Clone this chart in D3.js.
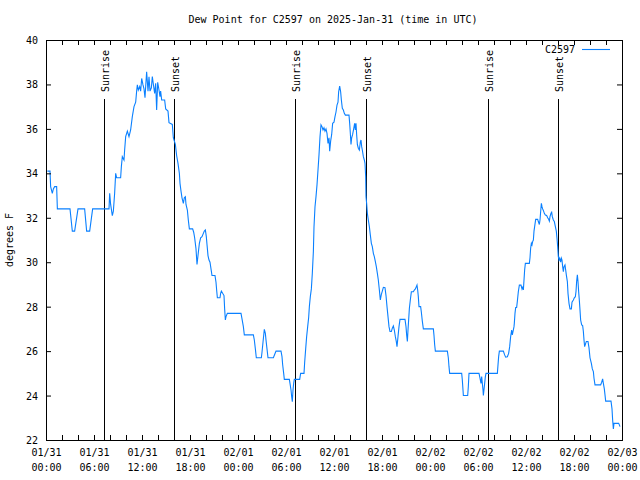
<!DOCTYPE html>
<html>
<head>
<meta charset="utf-8">
<script src="https://cdn.jsdelivr.net/npm/d3@7"></script>
<style>
  html, body { margin: 0; padding: 0; background: #fff; }
  svg text { font-family: "DejaVu Sans Mono", "Liberation Mono", monospace; font-size: 10px; fill: #000; }
</style>
</head>
<body>
<svg id="chart" width="640" height="480"></svg>
<script>
// ---- data (hours since 2025-01-31 00:00 UTC, dew point in °F) ----
const hours = [
0.17,0.5,0.58,0.79,0.92,1.08,1.33,1.42,3.0,3.29,3.58,4.0,4.83,5.08,5.46,5.83,7.875,7.96,8.08,8.29,8.42,8.58,8.71,8.83,9.33,9.42,9.54,9.75,9.83,9.96,10.17,10.375,10.58,10.79,11.0,11.21,11.33,11.42,11.54,11.71,11.83,11.96,12.125,12.25,12.375,12.46,12.58,12.75,12.875,13.0,13.17,13.29,13.42,13.58,13.71,13.83,13.96,14.125,14.25,14.33,14.46,14.83,14.96,15.25,15.375,15.79,15.92,
16.17,16.33,16.5,16.67,16.75,16.875,17.0,17.17,17.29,17.42,17.5,17.67,17.79,17.92,18.33,18.46,18.58,18.75,18.875,19.0,19.17,19.33,19.5,19.67,19.79,19.92,20.04,20.125,20.25,20.375,20.5,20.625,20.75,21.125,21.25,21.33,21.42,21.75,21.83,21.92,22.08,22.25,22.33,22.42,22.5,22.67,24.375,24.5,24.67,24.79,25.92,26.04,26.17,26.29,26.92,27.0,27.125,27.29,27.42,27.5,27.625,27.75,28.42,28.58,28.75,29.375,29.5,29.58,29.71,29.79,30.42,30.5,30.625,30.71,30.79,30.875,30.96,31.04,
31.71,31.83,32.25,32.33,32.46,32.58,32.71,32.83,32.92,33.04,33.17,33.29,33.42,33.5,33.625,33.75,33.875,34.0,34.125,34.25,34.375,34.5,34.625,34.75,34.875,35.0,35.125,35.25,35.375,35.46,35.58,35.71,35.83,36.0,36.125,36.25,36.375,36.5,36.58,36.71,36.83,36.92,37.04,37.17,37.29,37.42,37.875,37.96,38.04,38.125,38.21,38.33,38.46,38.58,38.67,38.75,38.83,38.92,39.04,39.17,39.29,39.375,39.46,39.54,39.67,39.79,39.875,39.96,40.0,40.08,40.17,40.29,40.42,40.54,40.67,40.79,40.92,41.04,41.17,41.29,41.42,41.54,41.67,41.79,41.92,42.04,42.17,42.375,42.5,42.625,42.75,42.875,43.0,43.17,43.29,43.42,43.54,43.67,43.79,43.875,44.0,44.125,44.25,
44.875,45.0,45.08,45.17,45.25,45.33,45.42,45.54,45.67,45.92,46.04,46.17,46.29,46.375,46.46,46.54,46.625,46.83,46.92,47.04,47.17,48.42,48.5,48.58,48.67,50.17,50.29,50.375,50.46,51.96,52.04,52.125,52.17,52.71,52.79,52.875,54.125,54.25,54.375,54.46,54.54,54.625,54.67,54.79,54.92,55.0,56.42,56.5,56.58,56.67,57.17,57.33,57.46,57.67,57.83,57.96,58.08,58.21,58.29,58.42,58.5,
58.54,58.625,58.71,58.83,58.92,59.04,59.17,59.375,59.5,59.58,59.67,59.75,59.83,59.92,60.42,60.5,60.58,60.67,60.75,60.83,60.92,61.0,61.08,61.21,61.46,61.54,61.67,61.75,61.83,61.92,62.0,62.08,62.17,62.29,62.42,62.58,62.71,62.83,62.92,63.0,63.125,63.21,63.29,63.42,63.54,63.67,63.79,63.875,63.96,64.04,64.125,64.21,64.33,64.42,64.5,64.58,64.67,64.75,64.875,64.96,65.04,65.17,65.25,65.375,65.5,65.67,65.75,65.92,66.04,66.17,66.25,66.33,66.42,66.5,66.58,66.67,66.75,66.83,66.96,67.08,67.17,67.25,67.33,67.46,67.54,67.75,67.875,68.0,68.17,68.29,68.42,68.5,68.625,69.33,69.46,69.58,69.67,69.79,69.875,69.96,70.625,70.75,70.83,70.92,71.0,71.58,71.67,71.75
];
const dewF = [
34.1,34.1,33.4,33.1,33.3,33.4,33.4,32.4,32.4,31.4,31.4,32.4,32.4,31.4,31.4,32.4,32.4,33.1,32.6,32.1,32.3,33.1,34.0,33.8,33.8,34.3,34.75,34.6,35.05,35.65,35.9,35.65,35.95,36.55,37.0,37.2,37.7,37.98,37.75,37.9,37.7,38.27,37.98,37.8,37.4,37.9,38.57,37.7,38.35,37.7,37.85,38.35,38.0,37.6,38.05,36.85,38.1,37.75,37.45,37.7,37.3,37.3,36.9,36.8,36.28,36.2,35.6,
35.3,34.8,34.45,34.0,33.55,33.2,32.9,32.65,32.9,32.95,32.6,32.35,31.9,31.5,31.5,31.35,31.1,30.6,29.9,30.3,30.85,31.1,31.15,31.3,31.4,31.45,31.15,30.8,30.3,30.1,30.0,29.7,29.4,29.4,29.1,28.75,28.4,28.4,28.6,28.7,28.6,28.5,27.9,27.4,27.55,27.7,27.7,27.45,27.1,26.73,26.73,26.5,26.1,25.7,25.7,25.95,26.4,26.98,26.8,26.5,26.1,25.7,25.7,25.85,26.0,26.0,25.75,25.4,25.0,24.73,24.73,24.55,24.25,23.95,23.72,24.25,24.55,24.73,
24.73,25.0,25.0,25.48,26.1,26.65,27.1,27.5,28.0,28.45,28.8,29.5,30.47,31.6,32.5,32.95,33.48,34.15,34.83,35.65,36.18,36.1,35.95,36.05,35.9,36.0,35.8,35.35,35.6,35.0,35.45,35.75,36.25,36.3,36.55,36.76,37.07,37.2,37.67,37.93,37.67,37.3,36.93,36.85,36.7,36.62,36.62,36.25,35.8,35.3,35.6,35.75,36.0,36.25,35.95,36.25,35.75,35.3,35.13,35.05,35.4,35.5,35.2,35.05,34.75,34.6,34.45,33.85,32.95,32.65,32.2,31.9,31.6,31.23,30.85,30.7,30.4,30.25,30.03,29.8,29.5,29.2,28.75,28.3,28.55,28.7,28.87,28.85,28.5,28.0,27.55,27.1,26.88,26.88,27.03,27.13,26.95,26.65,26.43,26.2,26.65,27.1,27.43,
27.43,27.1,26.73,26.43,26.95,27.4,27.92,28.3,28.67,28.67,28.75,28.8,28.9,28.97,28.75,28.45,28.0,28.0,27.75,27.35,27.0,27.0,26.7,26.3,26.0,26.0,25.7,25.3,25.0,25.0,24.7,24.25,24.0,24.0,24.4,25.0,25.0,24.78,24.55,24.85,24.55,24.25,24.0,24.4,24.85,25.0,25.0,25.38,25.75,26.0,26.0,25.83,25.73,25.75,25.9,26.2,26.65,26.95,26.73,26.95,27.1,
27.25,27.7,27.96,27.96,28.25,28.67,28.97,28.97,28.8,28.9,28.75,29.2,29.65,29.95,29.95,30.2,30.63,30.85,30.78,30.93,31.0,31.4,31.6,31.93,31.93,31.83,31.7,31.9,32.27,32.65,32.5,32.4,32.33,32.2,32.12,32.1,32.0,31.93,31.85,32.05,32.2,32.25,32.05,31.9,31.83,31.6,31.4,31.07,30.7,30.25,30.1,30.18,30.0,30.18,30.1,29.8,29.58,29.8,29.88,29.65,29.43,29.13,28.6,28.15,27.9,27.9,28.2,28.3,28.4,28.45,28.68,29.13,29.43,29.13,28.68,28.27,27.85,27.4,27.18,27.15,26.88,26.5,26.2,26.35,26.43,26.43,26.15,25.7,25.45,25.2,25.08,24.78,24.48,24.48,24.6,24.75,24.55,24.3,24.03,23.75,23.75,23.4,22.9,22.5,22.75,22.75,22.68,22.6
];
const yTicks = [22, 24, 26, 28, 30, 32, 34, 36, 38, 40];
const xLabelHours = [0, 6, 12, 18, 24, 30, 36, 42, 48, 54, 60, 66, 72];
const xMinorHours = d3.range(0, 73, 2);
const sunEvents = [
  { h: 7.28, label: "Sunrise" }, { h: 16.04, label: "Sunset" },
  { h: 31.16, label: "Sunrise" }, { h: 40.04, label: "Sunset" },
  { h: 55.21, label: "Sunrise" }, { h: 64.04, label: "Sunset" }
];
const titleText = "Dew Point for C2597 on 2025-Jan-31 (time in UTC)";
const yLabelText = "degrees F";
const seriesName = "C2597";

// ---- layout ----
const svg = d3.select("#chart");
const L = 46, R = 622, T = 40, B = 440;
const t0 = Date.UTC(2025, 0, 31, 0, 0);
const toDate = h => new Date(t0 + h * 3600e3);

const x = d3.scaleUtc().domain([toDate(0), toDate(72)]).range([L, R]);
const y = d3.scaleLinear().domain([22, 40]).range([B, T]);

const lineColor = "#0a80ff";

// sunrise / sunset lines
const ev = svg.append("g");
sunEvents.forEach(e => {
  const xe = Math.round(x(toDate(e.h))) + 0.5;
  ev.append("line").attr("x1", xe).attr("x2", xe).attr("y1", B).attr("y2", 99)
    .attr("stroke", "#000").attr("stroke-width", 1);
  ev.append("text").attr("transform", `translate(${xe + 1},92) rotate(-90)`)
    .attr("dominant-baseline", "central").attr("text-anchor", "start").text(e.label);
});

// data line
const pts = hours.map((h, i) => ({ t: toDate(h), v: dewF[i] }));
svg.append("path").datum(pts)
  .attr("fill", "none").attr("stroke", lineColor).attr("stroke-width", 1.1)
  .attr("d", d3.line().x(d => x(d.t)).y(d => y(d.v)));

// axes
const fmtD = d3.utcFormat("%m/%d"), fmtT = d3.utcFormat("%H:%M");
const xb = svg.append("g").attr("transform", `translate(0,${B})`)
  .call(d3.axisBottom(x).tickValues(xMinorHours.map(toDate)).tickSize(-5).tickFormat(""));
const xt = svg.append("g").attr("transform", `translate(0,${T})`)
  .call(d3.axisTop(x).tickValues(xMinorHours.map(toDate)).tickSize(-5).tickFormat(""));
const yl = svg.append("g").attr("transform", `translate(${L},0)`)
  .call(d3.axisLeft(y).tickValues(yTicks).tickSize(-5).tickPadding(8).tickFormat(d3.format("d")));
const yr = svg.append("g").attr("transform", `translate(${R},0)`)
  .call(d3.axisRight(y).tickValues(yTicks).tickSize(-5).tickFormat(""));
[xb, xt, yl, yr].forEach(g => {
  g.select(".domain").remove();
  g.selectAll(".tick line").attr("stroke", "#000");
  g.selectAll("text").attr("font-family", null).attr("font-size", null);
});
yl.selectAll(".tick text").attr("dy", "0.35em");

// two-line x labels
const xl = svg.append("g");
xLabelHours.forEach(h => {
  const d = toDate(h);
  const t = xl.append("text").attr("text-anchor", "middle")
    .attr("transform", `translate(${x(d) + 0.5},0)`);
  t.append("tspan").attr("x", 0).attr("y", 456).text(fmtD(d));
  t.append("tspan").attr("x", 0).attr("y", 471).text(fmtT(d));
});

// frame
svg.append("rect").attr("x", L + 0.5).attr("y", T + 0.5)
  .attr("width", R - L).attr("height", B - T)
  .attr("fill", "none").attr("stroke", "#000").attr("stroke-width", 1);

// title, y label
svg.append("text").attr("x", 333).attr("y", 23).attr("text-anchor", "middle").text(titleText);
svg.append("text").attr("transform", "translate(13,240) rotate(-90)")
  .attr("text-anchor", "middle").text(yLabelText);

// legend
svg.append("text").attr("x", 575).attr("y", 53).attr("text-anchor", "end").text(seriesName);
svg.append("line").attr("x1", 582).attr("x2", 610).attr("y1", 49.5).attr("y2", 49.5)
  .attr("stroke", lineColor).attr("stroke-width", 1.1);
</script>
</body>
</html>
